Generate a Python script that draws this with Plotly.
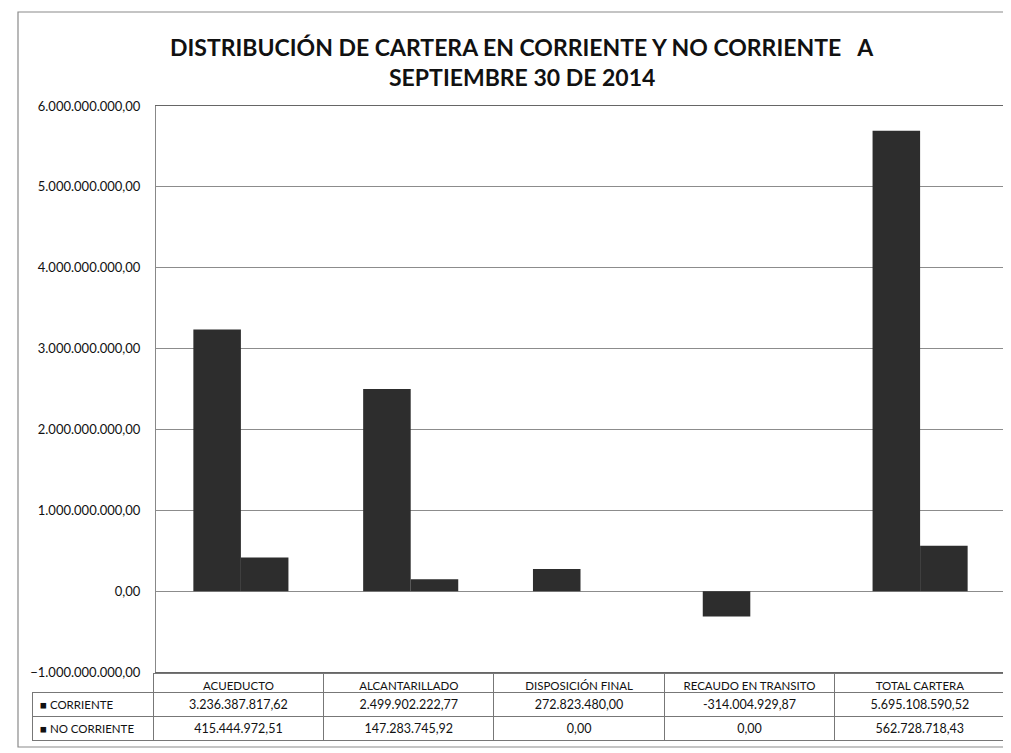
import plotly.graph_objects as go

categorias = ["ACUEDUCTO", "ALCANTARILLADO", "DISPOSICIÓN FINAL",
              "RECAUDO EN TRANSITO", "TOTAL CARTERA"]
corriente = [3236387817.62, 2499902222.77, 272823480.00, -314004929.87, 5695108590.52]
no_corriente = [415444972.51, 147283745.92, 0.00, 0.00, 562728718.43]
series = ["CORRIENTE", "NO CORRIENTE"]
y_ticks = [-1e9, 0, 1e9, 2e9, 3e9, 4e9, 5e9, 6e9]

W, H = 1011, 753
OFF = 8  # margen por defecto del <body> en la página
FONT = "Lato, Open Sans, Arial, sans-serif"
BAR = "#2d2d2d"
GRID = "#8c8c8c"


def _fmt(v):
    s = f"{v:,.2f}"
    return s.replace(",", "#").replace(".", ",").replace("#", ".")


def _px(x):
    return (x - OFF) / W


def _py(y):
    return 1 - (y - OFF) / H


fig = go.Figure()

for name, vals in zip(series, [corriente, no_corriente]):
    fig.add_trace(go.Bar(
        x=categorias, y=vals, name=name,
        marker=dict(color=BAR, line=dict(width=0)),
        showlegend=False,
    ))

# tabla de datos bajo el eje
n = len(categorias)
fig.add_trace(go.Table(
    domain=dict(x=[_px(32), _px(1005)], y=[_py(742), _py(673)]),
    columnwidth=[121] + [170] * n,
    header=dict(
        values=[""] + categorias,
        fill_color=["rgba(0,0,0,0)"] + ["white"] * n,
        line=dict(color=["rgba(0,0,0,0)"] + ["#777777"] * n, width=1),
        font=dict(family=FONT, size=11.5, color="#111"),
        align="center", height=19,
    ),
    cells=dict(
        values=[["\u25a0 " + s.replace(" ", "\u00a0") for s in series]]
        + [[_fmt(c), _fmt(v)] for c, v in zip(corriente, no_corriente)],
        fill_color="white",
        line=dict(color="#777777", width=1),
        font=dict(family=FONT, size=[11.5] + [12.5] * n, color="#111"),
        align=["left"] + ["center"] * n, height=24,
    ),
))

fig.add_annotation(
    text="<b>DISTRIBUCIÓN DE CARTERA EN CORRIENTE Y NO CORRIENTE\u00a0\u00a0\u00a0A</b>",
    xref="paper", yref="paper", x=_px(522), y=_py(47),
    xanchor="center", yanchor="middle", showarrow=False,
    font=dict(family=FONT, size=23, color="#111"),
)
fig.add_annotation(
    text="<b>SEPTIEMBRE 30 DE 2014</b>",
    xref="paper", yref="paper", x=_px(522), y=_py(77),
    xanchor="center", yanchor="middle", showarrow=False,
    font=dict(family=FONT, size=23, color="#111"),
)

# borde del área del gráfico
fig.add_shape(type="rect", xref="paper", yref="paper",
              x0=_px(18), x1=1.02, y0=_py(747), y1=_py(12),
              line=dict(color="#8a8a8a", width=1.2))

fig.update_layout(
    width=W, height=H, autosize=False,
    margin=dict(l=0, r=0, t=0, b=0),
    paper_bgcolor="white", plot_bgcolor="white",
    separators=",.",
    font=dict(family=FONT, size=12, color="#111"),
    barmode="group", bargap=0.44, bargroupgap=0,
    xaxis=dict(domain=[_px(156), _px(1005)], showticklabels=False,
               showgrid=False, showline=True, linecolor="#666666",
               mirror=True, ticks=""),
    yaxis=dict(domain=[_py(672), _py(106)], range=[-1e9, 6e9],
               tickvals=y_ticks, tickformat=",.2f",
               showgrid=True, gridcolor=GRID, gridwidth=1,
               zeroline=True, zerolinecolor=GRID, zerolinewidth=1,
               showline=True, linecolor="#888888", mirror=True,
               ticks="", ticklen=0, automargin=False, ticklabelstandoff=12,
               tickfont=dict(family=FONT, size=13, color="#111")),
)

fig.write_html("out.html")
